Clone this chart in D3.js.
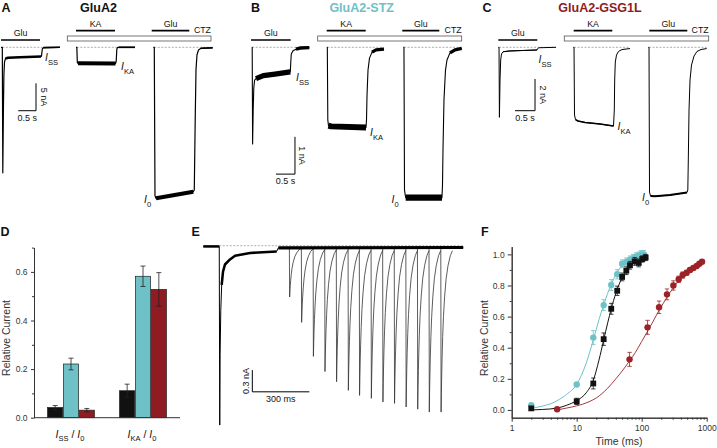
<!DOCTYPE html>
<html><head><meta charset="utf-8">
<script src="https://cdn.jsdelivr.net/npm/d3@7"></script>
<style>
html,body{margin:0;padding:0;background:#fff;overflow:hidden}
svg{display:block}
text{font-family:"Liberation Sans",Arial,Helvetica,sans-serif}
</style>
</head><body>
<svg id="c" width="717" height="448"></svg>
<script>
// ---------------- DATA ----------------
const constructs = ["GluA2", "GluA2-STZ", "GluA2-GSG1L"];
const panelLetters = ["A", "B", "C", "D", "E", "F"];

// Panels A-C: sweeps, [time (s), current (nA)]
const sweepStartA = [0, 2.119, 4.302];
const traceA1 = [[0,0],[0.037,0],[0.051,-22.9],[0.068,-11.4],[0.082,-5.0],[0.099,-2.7],[0.127,-2.04],[0.198,-1.91],[0.537,-1.82],[1.13,-1.68],[1.144,-1.59],[1.167,-0.31],[1.2,-0.05],[1.667,0]];
const traceA2 = [[0,0],[0.023,0],[0.037,-2.77],[0.056,-2.92],[1.116,-2.96],[1.136,-2.5],[1.153,-0.31],[1.172,-0.05],[1.2,0],[1.667,0]];
const traceA3 = [[0,0],[0.028,0],[0.048,-27.1],[0.076,-27.55],[1.13,-26.35],[1.158,-26.04],[1.184,-13.27],[1.206,-4.14],[1.234,-1.41],[1.277,-0.49],[1.347,-0.18],[1.678,-0.09]];
const noiseA1 = [[0.127,1.13,0.45],[1.2,1.667,0.3]];
const noiseA2 = [[0.056,1.116,0.75],[1.2,1.667,0.3]];
const noiseA3 = [[0.076,1.13,0.75],[1.347,1.678,0.3]];

const sweepStartB = [0, 1.974, 3.989];
const traceB1 = [[0,0],[0.013,0],[0.024,-2.59],[0.039,-1.68],[0.055,-1.09],[0.076,-0.88],[0.113,-0.84],[0.306,-0.76],[0.613,-0.72],[1.016,-0.66],[1.029,-0.39],[1.042,-0.18],[1.087,-0.09],[1.166,-0.05],[1.271,-0.02],[1.516,-0.01]];
const traceB2 = [[0,0],[0.016,0],[0.029,-1.95],[0.047,-2.1],[0.113,-2.12],[1.034,-2.15],[1.047,-1.95],[1.061,-1.28],[1.087,-0.61],[1.126,-0.29],[1.192,-0.13],[1.297,-0.07],[1.507,-0.05]];
const traceB3 = [[0,0],[0.018,0],[0.032,-3.83],[0.063,-4.03],[1.018,-4.03],[1.032,-3.69],[1.045,-2.75],[1.071,-1.41],[1.111,-0.61],[1.15,-0.34],[1.229,-0.15],[1.361,-0.07],[1.537,-0.03]];
const noiseB1 = [[0.113,1.016,0.14],[1.166,1.516,0.09]];
const noiseB2 = [[0.047,1.034,0.16],[1.192,1.507,0.09]];
const noiseB3 = [[0.063,1.018,0.17],[1.229,1.537,0.09]];

const sweepStartC = [0, 1.875, 3.75];
const traceC1 = [[0,0],[0.018,0],[0.028,-4.42],[0.043,-2.06],[0.06,-0.8],[0.08,-0.42],[0.118,-0.28],[0.293,-0.23],[0.968,-0.17],[0.98,-0.11],[1.005,-0.03],[1.443,0]];
const traceC2 = [[0,0],[0.018,0],[0.03,-4.27],[0.055,-4.56],[0.118,-4.65],[0.293,-4.74],[0.668,-4.84],[1.005,-4.97],[1.025,-3.96],[1.035,-2.06],[1.05,-0.93],[1.08,-0.49],[1.13,-0.26],[1.218,-0.14],[1.418,-0.08]];
const traceC3 = [[0,0],[0.018,0],[0.03,-9.13],[0.055,-9.38],[0.168,-9.4],[0.543,-9.32],[0.968,-9.16],[0.988,-9.0],[1.0,-7.11],[1.018,-3.96],[1.043,-2.06],[1.08,-1.12],[1.143,-0.55],[1.218,-0.26],[1.318,-0.14],[1.46,-0.08]];
const noiseC1 = [[0.118,0.968,0.05]];
const noiseC2 = [[0.055,1.005,0.1]];
const noiseC3 = [[0.055,0.968,0.12]];

// Application bars [label, start s, end s] and CTZ [start, end]
const appA = [["Glu",0,1.102],["KA",2.119,3.22],["Glu",4.257,5.319]];
const ctzA = [1.873,5.932];
const appB = [["Glu",-0.018,1.026],["KA",1.974,3.0],["Glu",3.963,4.937]];
const ctzB = [1.737,5.526];
const appC = [["Glu",0,0.975],["KA",1.885,2.85],["Glu",3.775,4.725]];
const ctzC = [1.65,5.26];

// Scale bars [seconds, nA]
const scaleBarA = [0.5, 5];
const scaleBarB = [0.5, 1];
const scaleBarC = [0.5, 2];
const scaleBarE = [300, 0.3];

// Panel D
const dGroups = ["ss", "ka"];
const dMeanSS = [0.042, 0.221, 0.031];
const dErrSS  = [0.008, 0.024, 0.007];
const dMeanKA = [0.111, 0.582, 0.528];
const dErrKA  = [0.027, 0.042, 0.069];
const dTicks = [0, 0.2, 0.4, 0.6];

// Panel E (ms, nA)
const eCondTrace = [[0,-0.01],[84,-0.01],[86.5,-2.48],[88.5,-1.5],[92,-0.9],[96.8,-0.54],[103.7,-0.36],[114,-0.26],[140.5,-0.19],[167,-0.14],[246,-0.1],[386,-0.08],[395,-0.03],[1368,-0.025]];
const eNoise = [[0,84,0.035],[96.8,386,0.035],[395,1368,0.042]];
const ePulseTimes = [453,516,578,639,700,762,821,883,944,1005,1066,1127,1188,1250];
const ePulsePeaks = [-0.71,-1.06,-1.53,-1.74,-1.88,-2.0,-2.07,-2.11,-2.16,-2.18,-2.23,-2.26,-2.30,-2.30];
const ePulseShape = [[0,0],[1.5,1],[3,0.88],[5,0.76],[7,0.66],[10,0.54],[14,0.42],[20,0.3],[28,0.19],[38,0.11],[50,0.05],[61,0.02]];

// Panel F
const fTimeA2 = [2,10,18,26,34,42,50,58,66,78,90,102,115];
const fValA2  = [0.01,0.055,0.17,0.455,0.65,0.766,0.855,0.895,0.93,0.955,0.945,0.97,0.98];
const fErrA2  = [0.01,0.02,0.035,0.04,0.035,0.03,0.025,0.025,0.025,0.025,0.025,0.02,0.02];
const fTimeSTZ = [2,10,18,26,34,42,50,58,66,74,82,90,98,108];
const fValSTZ  = [0.03,0.163,0.465,0.674,0.803,0.872,0.94,0.952,0.965,0.975,0.985,0.99,1.0,1.0];
const fErrSTZ  = [0.01,0.01,0.045,0.035,0.035,0.03,0.025,0.025,0.025,0.025,0.025,0.025,0.025,0.025];
const fTimeGSG = [5,65,123,185,245,307,371,427,491,553,623,702,771,847];
const fValGSG  = [0.004,0.325,0.531,0.66,0.743,0.8,0.84,0.867,0.882,0.9,0.912,0.925,0.94,0.953];
const fErrGSG  = [0.005,0.045,0.045,0.04,0.035,0.03,0.02,0.02,0.015,0.015,0.01,0.01,0.01,0.01];
const fitTimeSTZ = [2,3,4,5,7,10,14,18,22,26,30,35,40,50,60,70,85,100,110];
const fitSTZ     = [0.01,0.025,0.04,0.06,0.1,0.165,0.3,0.45,0.58,0.675,0.75,0.82,0.87,0.93,0.96,0.975,0.99,0.995,1.0];
const fitTimeA2 = [2,3,5,7,10,14,18,22,26,30,34,40,50,60,70,85,100,120];
const fitA2     = [0.0,0.003,0.012,0.03,0.06,0.11,0.19,0.32,0.45,0.56,0.65,0.75,0.85,0.9,0.93,0.96,0.975,0.985];
const fitTimeGSG = [5,7,10,15,20,30,40,50,65,80,100,125,150,185,250,300,400,500,650,850];
const fitGSG     = [0.0,0.012,0.026,0.05,0.077,0.14,0.2,0.25,0.315,0.37,0.44,0.51,0.57,0.64,0.73,0.78,0.845,0.885,0.925,0.955];
const fYTicks = [0,0.2,0.4,0.6,0.8,1.0];
const fXTicks = [1,10,100,1000];

// ---------------- DRAW ----------------
const CYAN = "#6EC1C6", RED = "#8E1C22", BLK = "#111";
const colors = [BLK, CYAN, RED];
const svg = d3.select("#c");

function txt(g, x, y, s, size, opts = {}) {
  const t = g.append("text").attr("x", x).attr("y", y).text(s)
    .style("font-size", size + "px").attr("fill", opts.fill || "#111")
    .attr("text-anchor", opts.anchor || "start");
  if (opts.bold) t.style("font-weight", "bold");
  if (opts.rotate) t.attr("transform", `rotate(${opts.rotate},${x},${y})`);
  return t;
}
function iLabel(g, x, y, sub, size, anchor) {
  const t = g.append("text").attr("x", x).attr("y", y).style("font-size", size + "px")
    .attr("fill", "#111").attr("text-anchor", anchor || "start");
  t.append("tspan").style("font-style", "italic").text("I");
  t.append("tspan").attr("dy", size * 0.38).style("font-size", (size * 0.72) + "px").text(sub);
  return t;
}
function drawTrace(g, pts, noise, x, y, t0, w, color) {
  const line = d3.line().x(d => x(t0 + d[0])).y(d => y(d[1]));
  g.append("path").attr("d", line(pts)).attr("fill", "none").attr("stroke", color || "#000")
    .attr("stroke-width", w).attr("stroke-linejoin", "round");
  noise.forEach(([a, b, p]) => {
    const sub = pts.filter(d => d[0] >= a - 1e-9 && d[0] <= b + 1e-9);
    const px = Math.abs(y(p) - y(0));
    g.append("path").attr("d", line(sub)).attr("fill", "none").attr("stroke", color || "#000")
      .attr("stroke-width", Math.max(w, px)).attr("stroke-linejoin", "round");
  });
}

// Panels A-C
const baseY = 47.3;
const abc = [
  {letter:"A", lx:1.5, title:constructs[0], tx:98.5, tcol:"#111", x0:1, pxs:35.4, pxna:5.48,
   starts:sweepStartA, traces:[traceA1,traceA2,traceA3], noise:[noiseA1,noiseA2,noiseA3], w:1.2,
   app:appA, ctz:ctzA, sb:scaleBarA, sbCorner:[0.989,-11.57],
   lab:[["SS",1.243,-2.5],["KA",3.39,-4.14],["0",4.04,-28.4]]},
  {letter:"B", lx:251, title:constructs[1], tx:361.7, tcol:CYAN, x0:251.7, pxs:38, pxna:37.3,
   starts:sweepStartB, traces:[traceB1,traceB2,traceB3], noise:[noiseB1,noiseB2,noiseB3], w:1.1,
   app:appB, ctz:ctzB, sb:scaleBarB, sbCorner:[1.139,-3.40],
   lab:[["SS",1.166,-0.90],["KA",3.113,-2.38],["0",3.679,-4.17]]},
  {letter:"C", lx:482.5, title:constructs[2], tx:600, tcol:RED, x0:498.3, pxs:40, pxna:15.85,
   starts:sweepStartC, traces:[traceC1,traceC2,traceC3], noise:[noiseC1,noiseC2,noiseC3], w:1.0,
   app:appC, ctz:ctzC, sb:scaleBarC, sbCorner:[0.918,-4.0],
   lab:[["SS",1.005,-0.99],["KA",2.98,-5.22],["0",3.593,-9.7]]}
];
abc.forEach(P => {
  const g = svg.append("g");
  const x = d3.scaleLinear().domain([0, 6]).range([P.x0, P.x0 + 6 * P.pxs]);
  const y = d3.scaleLinear().domain([0, -10]).range([baseY, baseY + 10 * P.pxna]);
  txt(g, P.lx, 11.8, P.letter, 12.5, {bold:true});
  txt(g, P.tx, 11.8, P.title, 12.5, {bold:true, anchor:"middle", fill:P.tcol});
  g.append("rect").attr("x", x(P.ctz[0])).attr("y", 36).attr("width", x(P.ctz[1]) - x(P.ctz[0]))
    .attr("height", 5).attr("fill", "#fff").attr("stroke", "#555").attr("stroke-width", 0.8);
  txt(g, x(P.ctz[1]), 33.3, "CTZ", 8.8, {anchor:"end"});
  P.app.forEach((a, i) => {
    const by = i === 0 ? 40 : 30.7;
    g.append("line").attr("x1", x(a[1])).attr("x2", x(a[2])).attr("y1", by).attr("y2", by)
      .attr("stroke", "#000").attr("stroke-width", 1.7);
    txt(g, (x(a[1]) + x(a[2])) / 2, by - 4, a[0], 8.8, {anchor:"middle"});
  });
  P.traces.forEach((tr, i) => {
    const t0 = P.starts[i];
    g.append("line").attr("x1", x(t0 + tr[1][0])).attr("x2", x(t0 + tr[tr.length - 1][0]))
      .attr("y1", y(0)).attr("y2", y(0)).attr("stroke", "#888").attr("stroke-width", 0.7)
      .attr("stroke-dasharray", "2,1.5");
    drawTrace(g, tr, P.noise[i], x, y, t0, P.w);
  });
  P.lab.forEach(l => iLabel(g, x(l[1]), y(l[2]), l[0], 10.5));
  const cx = x(P.sbCorner[0]), cy = y(P.sbCorner[1]);
  const hx = x(P.sbCorner[0] - P.sb[0]), vy = y(P.sbCorner[1] + P.sb[1]);
  g.append("path").attr("d", `M${cx},${vy}V${cy}H${hx}`).attr("fill", "none")
    .attr("stroke", "#000").attr("stroke-width", 1);
  txt(g, (cx + hx) / 2, cy + 9.8, P.sb[0] + " s", 9, {anchor:"middle"});
  txt(g, cx + 4.5, (cy + vy) / 2, P.sb[1] + " nA", 9, {anchor:"middle", rotate:90});
});

// Panel D
(function(){
  const g = svg.append("g");
  txt(g, 0.5, 235.5, panelLetters[3], 12.5, {bold:true});
  const y = d3.scaleLinear().domain([0, 0.7]).range([417.7, 247.6]);
  const x0 = d3.scaleBand().domain(dGroups).range([35, 179]).paddingInner(0.34).paddingOuter(0.17);
  const x1 = d3.scaleBand().domain([0,1,2]).range([0, x0.bandwidth()]);
  const rows = [[dMeanSS, dErrSS], [dMeanKA, dErrKA]];
  dGroups.forEach((grp, gi) => {
    const [m, e] = rows[gi];
    m.forEach((v, i) => {
      const bx = x0(grp) + x1(i);
      g.append("rect").attr("x", bx + 0.3).attr("y", y(v)).attr("width", x1.bandwidth() - 0.6)
        .attr("height", y(0) - y(v)).attr("fill", colors[i]).attr("stroke", "#222").attr("stroke-width", 0.7);
      const cx = bx + x1.bandwidth() / 2;
      g.append("path").attr("d", `M${cx},${y(v - e[i])}V${y(v + e[i])}M${cx - 2.5},${y(v + e[i])}H${cx + 2.5}M${cx - 2.5},${y(v - e[i])}H${cx + 2.5}`)
        .attr("stroke", "#222").attr("stroke-width", 0.8).attr("fill", "none");
    });
  });
  g.append("g").attr("transform", "translate(34,0)")
    .call(d3.axisLeft(y).tickValues(dTicks).tickFormat(d3.format(".1f")).tickSize(3).tickSizeOuter(0).tickPadding(3.5));
  g.append("g").attr("transform", "translate(34,0)")
    .call(d3.axisLeft(y).tickValues([0.1,0.3,0.5,0.7]).tickFormat("").tickSize(2).tickSizeOuter(0));
  g.append("line").attr("x1", 34).attr("x2", 180).attr("y1", 417.7).attr("y2", 417.7).attr("stroke", "#333");
  g.selectAll(".domain, .tick line").attr("stroke", "#333");
  g.selectAll(".tick text").style("font-size", "8.5px").attr("fill", "#333")
    .style("font-family", '"Liberation Sans",Arial,sans-serif');
  txt(g, 10, 338, "Relative Current", 10.5, {anchor:"middle", rotate:-90, fill:"#333"});
  [["SS", dGroups[0]], ["KA", dGroups[1]]].forEach(([s, grp]) => {
    const cx = x0(grp) + x0.bandwidth() / 2 - 1;
    const t = g.append("text").attr("x", cx).attr("y", 438).attr("text-anchor", "middle")
      .style("font-size", "10.5px").attr("fill", "#111");
    t.append("tspan").style("font-style", "italic").text("I");
    t.append("tspan").attr("dy", 3).style("font-size", "7.5px").text(s);
    t.append("tspan").attr("dy", -3).text(" / ");
    t.append("tspan").style("font-style", "italic").text("I");
    t.append("tspan").attr("dy", 3).style("font-size", "7.5px").text("0");
  });
})();

// Panel E
(function(){
  const g = svg.append("g");
  txt(g, 191.5, 235.5, panelLetters[4], 12.5, {bold:true});
  const x = d3.scaleLinear().domain([0, 300]).range([203.3, 203.3 + 57]);
  const y = d3.scaleLinear().domain([0, -0.3]).range([245.7, 245.7 + 21.7]);
  g.append("line").attr("x1", x(84)).attr("x2", x(1368)).attr("y1", y(0)).attr("y2", y(0))
    .attr("stroke", "#999").attr("stroke-width", 0.8).attr("stroke-dasharray", "2,1.5");
  const line = d3.line().x(d => x(d[0])).y(d => y(d[1]));
  ePulseTimes.forEach((t, i) => {
    const base = -0.025, pk = ePulsePeaks[i];
    const pts = ePulseShape.map(s => [t + s[0], base + s[1] * (pk - base)]);
    g.append("path").attr("d", line(pts)).attr("fill", "none").attr("stroke", "#333")
      .attr("stroke-width", 0.8).attr("stroke-linejoin", "round");
  });
  drawTrace(g, eCondTrace, eNoise, x, y, 0, 1.0);
  const cx = x(258), cy = y(-2.02);
  g.append("path").attr("d", `M${cx},${y(-2.02 + scaleBarE[1])}V${cy}H${x(258 + scaleBarE[0])}`)
    .attr("fill", "none").attr("stroke", "#000").attr("stroke-width", 1);
  txt(g, (cx + x(258 + scaleBarE[0])) / 2, cy + 10, scaleBarE[0] + " ms", 9, {anchor:"middle"});
  txt(g, cx - 3, (cy + y(-2.02 + scaleBarE[1])) / 2, scaleBarE[1] + " nA", 9, {anchor:"middle", rotate:-90});
})();

// Panel F
(function(){
  const g = svg.append("g");
  txt(g, 481, 235.5, panelLetters[5], 12.5, {bold:true});
  const x = d3.scaleLog().domain([1, 1000]).range([511.7, 706.7]);
  const y = d3.scaleLinear().domain([-0.05, 1.05]).range([417.7, 246.6]);
  const minorX = [];
  [1, 10, 100].forEach(d => { for (let k = 2; k <= 9; k++) minorX.push(d * k); });
  g.append("g").attr("transform", "translate(0,417.7)")
    .call(d3.axisBottom(x).tickValues(fXTicks).tickFormat(d3.format("d")).tickSize(4).tickSizeOuter(0).tickPadding(3));
  g.append("g").attr("transform", "translate(0,417.7)")
    .call(d3.axisBottom(x).tickValues(minorX).tickFormat("").tickSize(2).tickSizeOuter(0));
  g.append("g").attr("transform", "translate(511.7,0)")
    .call(d3.axisLeft(y).tickValues(fYTicks).tickFormat(d3.format(".1f")).tickSize(4).tickSizeOuter(0).tickPadding(3));
  g.append("g").attr("transform", "translate(511.7,0)")
    .call(d3.axisLeft(y).tickValues([0.1,0.3,0.5,0.7,0.9]).tickFormat("").tickSize(2).tickSizeOuter(0));
  g.selectAll(".domain, .tick line").attr("stroke", "#333");
  g.selectAll(".tick text").style("font-size", "8.5px").attr("fill", "#333")
    .style("font-family", '"Liberation Sans",Arial,sans-serif');
  txt(g, 619, 445, "Time (ms)", 10.5, {anchor:"middle", fill:"#333"});
  txt(g, 488, 338, "Relative Current", 10.5, {anchor:"middle", rotate:-90, fill:"#333"});

  const fitLine = d3.line().x(d => x(d[0])).y(d => y(d[1])).curve(d3.curveMonotoneX);
  const fits = [[fitTimeSTZ, fitSTZ, CYAN], [fitTimeA2, fitA2, BLK], [fitTimeGSG, fitGSG, "#A33A3E"]];
  fits.forEach(([t, v, c]) => {
    g.append("path").attr("d", fitLine(t.map((d, i) => [d, v[i]]))).attr("fill", "none")
      .attr("stroke", c).attr("stroke-width", 1);
  });
  const sets = [
    [fTimeGSG, fValGSG, fErrGSG, "#9B2328", "circle"],
    [fTimeSTZ, fValSTZ, fErrSTZ, CYAN, "circle"],
    [fTimeA2, fValA2, fErrA2, BLK, "square"]
  ];
  sets.forEach(([t, v, e, c, shape]) => {
    t.forEach((d, i) => {
      const cx = x(d), cy = y(v[i]), hi = y(v[i] + e[i]), lo = y(v[i] - e[i]);
      g.append("path").attr("d", `M${cx},${lo}V${hi}M${cx - 2.2},${hi}H${cx + 2.2}M${cx - 2.2},${lo}H${cx + 2.2}`)
        .attr("stroke", c).attr("stroke-width", 0.8).attr("fill", "none");
      if (shape === "circle") g.append("circle").attr("cx", cx).attr("cy", cy).attr("r", 3.2).attr("fill", c);
      else g.append("rect").attr("x", cx - 2.9).attr("y", cy - 2.9).attr("width", 5.8).attr("height", 5.8).attr("fill", c);
    });
  });
})();
</script>
</body></html>
